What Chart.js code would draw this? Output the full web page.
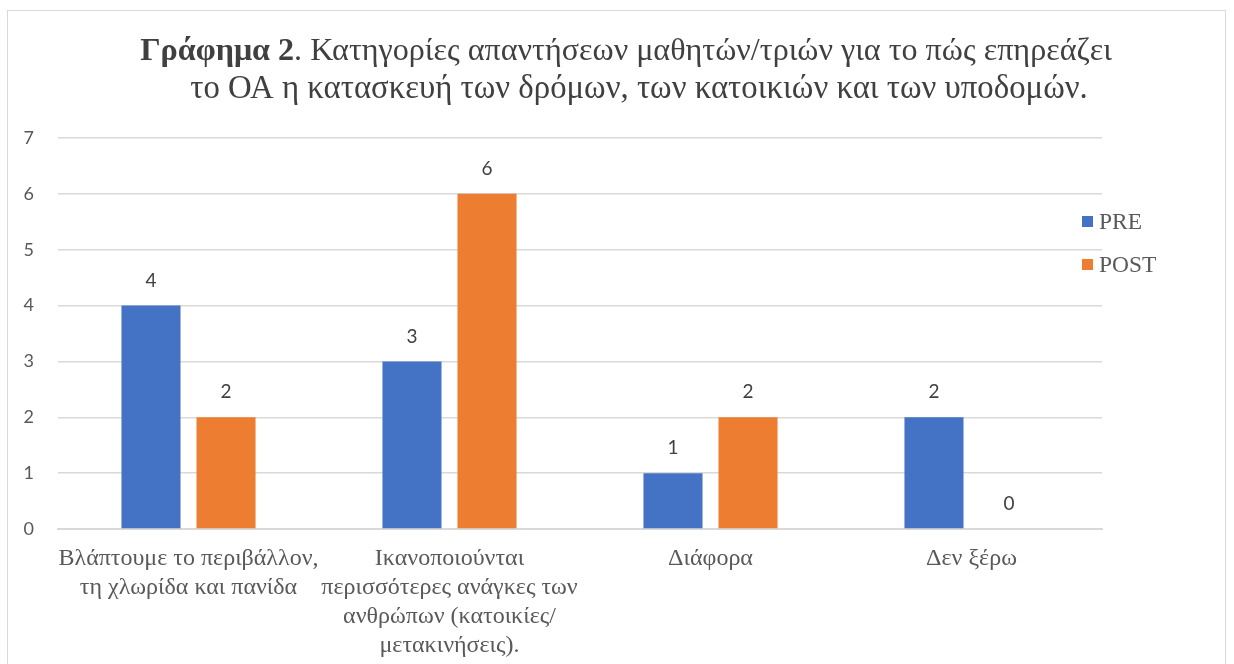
<!DOCTYPE html>
<html>
<head>
<meta charset="utf-8">
<script src="https://cdn.jsdelivr.net/npm/chart.js@4.4.1/dist/chart.umd.min.js"></script>
<style>
  html, body { margin: 0; padding: 0; background: #fff; }
  #wrap { position: relative; width: 1234px; height: 664px; overflow: hidden; }
  #frame { position: absolute; left: 7px; top: 10px; width: 1219px; height: 700px; border: 1px solid #d9d9d9; box-sizing: border-box; }
  canvas { position: absolute; left: 0; top: 0; }
</style>
</head>
<body>
<div id="wrap">
  <div id="frame"></div>
  <canvas id="c" width="1234" height="664"></canvas>
</div>
<script>
const categories = [
  ["Βλάπτουμε το περιβάλλον,", "τη χλωρίδα και πανίδα"],
  ["Ικανοποιούνται", "περισσότερες ανάγκες των", "ανθρώπων (κατοικίες/", "μετακινήσεις)."],
  "Διάφορα",
  "Δεν ξέρω"
];
const preValues = [4, 3, 1, 2];
const postValues = [2, 6, 2, 0];
const seriesNames = ["PRE", "POST"];
const yTicks = [0, 1, 2, 3, 4, 5, 6, 7];
const titleBold = "Γράφημα 2";
const titleRest = ". Κατηγορίες απαντήσεων μαθητών/τριών για το πώς επηρεάζει";
const titleLine2 = "το ΟΑ η κατασκευή των δρόμων, των κατοικιών και των υποδομών.";

const SERIF = "'Liberation Serif', 'DejaVu Serif', serif";
const SANS = "Lato, 'Open Sans', sans-serif";

const mctx = document.createElement('canvas').getContext('2d');
function measure(text, font) { mctx.font = font; return mctx.measureText(text).width; }
// font sizes chosen so text widths match the reference
const tickSize = 20 * 260 / measure("Βλάπτουμε το περιβάλλον,", `20px ${SERIF}`);
const titleSize2 = 26 * 898 / measure(titleLine2, `26px ${SERIF}`);
const titleSize1 = 26 * 972 / (measure(titleBold, `bold 26px ${SERIF}`) + measure(titleRest, `26px ${SERIF}`));
const legendSize = 20 * 43 / measure("PRE", `20px ${SERIF}`);

const titlePlugin = {
  id: 'titlePlugin',
  afterDraw(chart) {
    const ctx = chart.ctx;
    ctx.save();
    ctx.fillStyle = '#404040';
    ctx.textBaseline = 'alphabetic';
    let fs = titleSize1;
    ctx.font = `bold ${fs}px ${SERIF}`;
    const wb = ctx.measureText(titleBold).width;
    ctx.font = `${fs}px ${SERIF}`;
    const wr = ctx.measureText(titleRest).width;
    const cx = 626;
    let x = cx - (wb + wr) / 2;
    ctx.font = `bold ${fs}px ${SERIF}`;
    ctx.fillText(titleBold, x, 60);
    ctx.font = `${fs}px ${SERIF}`;
    ctx.fillText(titleRest, x + wb, 60);
    ctx.font = `${titleSize2}px ${SERIF}`;
    ctx.textAlign = 'center';
    ctx.fillText(titleLine2, 639, 98);
    ctx.restore();
  }
};

const legendPlugin = {
  id: 'legendPlugin',
  afterDraw(chart) {
    const ctx = chart.ctx;
    ctx.save();
    ctx.font = `${legendSize}px ${SERIF}`;
    ctx.textBaseline = 'middle';
    chart.data.datasets.forEach((ds, i) => {
      const y = 222 + i * 43;
      ctx.fillStyle = ds.backgroundColor;
      ctx.fillRect(1082, y - 6, 11, 11);
      ctx.fillStyle = '#595959';
      ctx.fillText(ds.label, 1099, y + 1);
    });
    ctx.restore();
  }
};

const labelPlugin = {
  id: 'labelPlugin',
  afterDatasetsDraw(chart) {
    const ctx = chart.ctx;
    ctx.save();
    ctx.font = `19px ${SANS}`;
    ctx.fillStyle = '#404040';
    ctx.textAlign = 'center';
    ctx.textBaseline = 'middle';
    chart.data.datasets.forEach((ds, i) => {
      const meta = chart.getDatasetMeta(i);
      meta.data.forEach((bar, j) => {
        ctx.fillText(String(ds.data[j]), bar.x, bar.y - 25);
      });
    });
    ctx.restore();
  }
};

new Chart(document.getElementById('c'), {
  type: 'bar',
  data: {
    labels: categories,
    datasets: [
      { label: seriesNames[0], data: preValues, backgroundColor: '#4472C4' },
      { label: seriesNames[1], data: postValues, backgroundColor: '#ED7D31' }
    ]
  },
  options: {
    responsive: false,
    animation: false,
    devicePixelRatio: 1,
    layout: { padding: { top: 138, right: 132, left: 0, bottom: 0 } },
    plugins: { legend: { display: false }, title: { display: false }, tooltip: { enabled: false } },
    datasets: { bar: { categoryPercentage: 0.575, barPercentage: 0.787 } },
    scales: {
      x: {
        grid: { display: false, drawTicks: false },
        border: { color: '#d9d9d9', width: 2 },
        ticks: {
          color: '#595959',
          font: { family: SERIF, size: tickSize, lineHeight: '29px' },
          padding: 15,
          maxRotation: 0,
          autoSkip: false
        },
        afterFit(scale) { scale.height = 135; }
      },
      y: {
        min: 0, max: 7,
        afterBuildTicks(scale) { scale.ticks = yTicks.map(v => ({ value: v })); },
        grid: { color: '#d9d9d9', lineWidth: 1.5, drawTicks: false },
        border: { display: false },
        ticks: { color: '#595959', font: { family: SANS, size: 18 }, padding: 24 },
        afterFit(scale) { scale.width = 58; }
      }
    }
  },
  plugins: [titlePlugin, legendPlugin, labelPlugin]
});
</script>
</body>
</html>
